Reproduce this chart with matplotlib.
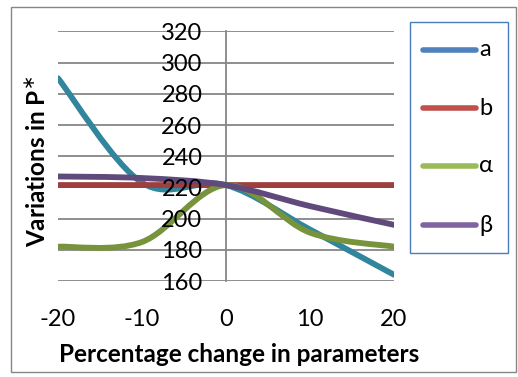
import matplotlib
matplotlib.use('Agg')
import matplotlib.pyplot as plt
from matplotlib.path import Path
from matplotlib.patches import PathPatch, Rectangle
from matplotlib.lines import Line2D
import numpy as np

plt.rcParams['font.family'] = ['Lato', 'DejaVu Sans']
plt.rcParams['axes.unicode_minus'] = False

# data (percentage change -> P*)
pct = [-20, -10, 0, 10, 20]
a_vals = [290, 223, 221.5, 193, 164]
b_vals = [221.5, 221.5, 221.5, 221.5, 221.5]
alpha_vals = [182, 185, 221.5, 191, 182]
beta_vals = [227, 226, 221.5, 208, 196]

series_names = ['a', 'b', 'α', 'β']
series_vals = [a_vals, b_vals, alpha_vals, beta_vals]
line_colors = ['#31859C', '#9E3F3D', '#77933C', '#604A7B']
legend_colors = ['#4F81BD', '#C0504D', '#9BBB59', '#8064A2']
y_ticks = [160, 180, 200, 220, 240, 260, 280, 300, 320]
x_ticks = [-20, -10, 0, 10, 20]

W, H = 518, 377
GRID = '#868686'


def smooth_path(xs, ys):
    # Excel-style smoothed line: cubic bezier through the points
    pts = np.column_stack([xs, ys]).astype(float)
    verts = [pts[0]]
    codes = [Path.MOVETO]
    n = len(pts)
    for i in range(n - 1):
        p0 = pts[i - 1] if i > 0 else pts[i]
        p1 = pts[i]
        p2 = pts[i + 1]
        p3 = pts[i + 2] if i + 2 < n else pts[i + 1]
        c1 = p1 + (p2 - p0) / 6.0
        c2 = p2 - (p3 - p1) / 6.0
        verts += [c1, c2, p2]
        codes += [Path.CURVE4] * 3
    return Path(verts, codes)


fig = plt.figure(figsize=(W / 100, H / 100), dpi=100)
fig.patch.set_facecolor('white')

# outer chart border
fig.patches.append(Rectangle((11 / W, 1 - 372 / H), 505 / W, 365 / H,
                             transform=fig.transFigure, fill=False,
                             edgecolor=GRID, lw=1.0))

ax = fig.add_axes([58 / W, 1 - 281 / H, 336 / W, 249.6 / H])
ax.set_xlim(-20, 20)
ax.set_ylim(160, 320)

for yv in y_ticks:
    ax.axhline(yv, color=GRID, lw=1.3, zorder=1)

for vals, col in zip(series_vals, line_colors):
    ax.add_patch(PathPatch(smooth_path(pct, vals), fill=False, edgecolor=col,
                           lw=4.2, capstyle='round', joinstyle='round', zorder=2))

for s in ['top', 'right', 'bottom']:
    ax.spines[s].set_visible(False)
ax.spines['left'].set_position(('data', 0))
ax.spines['left'].set_color(GRID)
ax.spines['left'].set_linewidth(1.3)
ax.spines['left'].set_zorder(1)

ax.set_yticks(y_ticks)
ax.set_xticks(x_ticks)
ax.tick_params(axis='y', length=0, pad=17, labelsize=17)
ax.tick_params(axis='x', length=0, pad=20, labelsize=17)
ax.set_axisbelow(False)

fig.text(239 / W, 1 - 355 / H, 'Percentage change in parameters',
         ha='center', va='center', fontsize=17.5, fontweight='bold')
fig.text(37 / W, 1 - 161 / H, 'Variations in P$^{\\ast}$',
         ha='center', va='center', fontsize=17.5, fontweight='bold', rotation=90)

# legend box
fig.patches.append(Rectangle((410 / W, 1 - 253 / H), 98 / W, 231 / H,
                             transform=fig.transFigure, fill=False,
                             edgecolor='#4A7EBB', lw=1.0))
for name, col, yy in zip(series_names, legend_colors, [50, 108, 166, 225]):
    fig.lines.append(Line2D([423 / W, 476 / W], [1 - yy / H, 1 - yy / H],
                            transform=fig.transFigure, color=col, lw=4.0,
                            solid_capstyle='round'))
    fig.text(479 / W, 1 - yy / H, name, ha='left', va='center', fontsize=17)

fig.savefig('out.png', dpi=100)
